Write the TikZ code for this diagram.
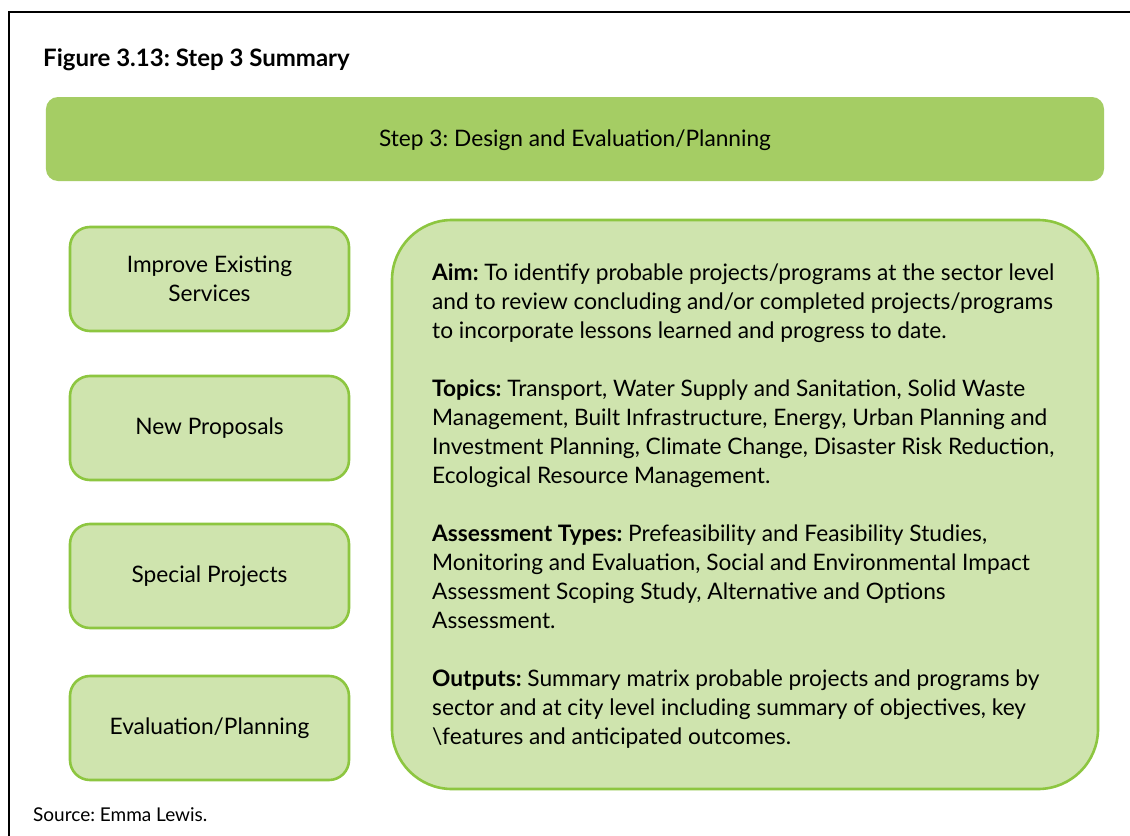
\documentclass[tikz,border=0pt]{standalone}
\usepackage{fontspec}
\setmainfont{Lato}
\frenchspacing
\definecolor{darkbar}{HTML}{A5CD64}
\definecolor{lightfill}{HTML}{CFE4AE}
\definecolor{greenline}{HTML}{8DC640}
\begin{document}
\begin{tikzpicture}[x=1bp,y=-1bp,
  sidebox/.style={draw=greenline, line width=2.6bp, fill=lightfill, rounded corners=20bp,
    minimum width=279bp, minimum height=104bp, align=center, inner sep=0pt,
    font=\fontsize{22.7bp}{29bp}\selectfont},
  bodytext/.style={align=left, inner sep=0pt, anchor=west,
    font=\fontsize{22.7bp}{29bp}\selectfont}]
\useasboundingbox (0,0) rectangle (1130,836);
\fill[white] (0,0) rectangle (1130,836);
\draw[line width=1.3bp] (1130,12) -- (9,12) -- (9,836);
\node[anchor=base west, inner sep=0pt, font=\fontsize{24bp}{28bp}\selectfont\bfseries] (title) at (43,66) {Figure 3.13: Step 3 Summary};
\node[fill=darkbar, rounded corners=12bp, minimum width=1058bp, minimum height=84bp, inner sep=0pt] (bar) at (575,139) {};
\node[inner sep=0pt, font=\fontsize{22.7bp}{29bp}\selectfont] (bartxt) at (575,140) {Step 3: Design and Evaluation/Planning};
\node[sidebox] (b1) at (209.5,279) {};
\node[sidebox] (b2) at (209.5,428) {};
\node[sidebox] (b3) at (209.5,576) {};
\node[sidebox] (b4) at (209.5,728) {};
\node[sidebox, draw=none, fill=none] (t1) at (209.5,279) {Improve Existing\\Services};
\node[sidebox, draw=none, fill=none] (t2) at (209.5,428) {New Proposals};
\node[sidebox, draw=none, fill=none] (t3) at (209.5,576) {Special Projects};
\node[sidebox, draw=none, fill=none] (t4) at (209.5,728) {Evaluation/Planning};
\node[draw=greenline, line width=2.6bp, fill=lightfill, rounded corners=60bp,
  minimum width=706bp, minimum height=569bp, inner sep=0pt] (big) at (745,504.5) {};
\node[bodytext] (txt) at (432,506) {%
\textbf{Aim:} To identify probable projects/programs at the sector level\\
and to review concluding and/or completed projects/programs\\
to incorporate lessons learned and progress to date.\\[29bp]
\textbf{Topics:} Transport, Water Supply and Sanitation, Solid Waste\\
Management, Built Infrastructure, Energy, Urban Planning and\\
Investment Planning, Climate Change, Disaster Risk Reduction,\\
Ecological Resource Management.\\[29bp]
\textbf{Assessment Types:} Prefeasibility and Feasibility Studies,\\
Monitoring and Evaluation, Social and Environmental Impact\\
Assessment Scoping Study, Alternative and Options\\
Assessment.\\[29bp]
\textbf{Outputs:} Summary matrix probable projects and programs by\\
sector and at city level including summary of objectives, key\\
\textbackslash features and anticipated outcomes.};
\node[anchor=base west, inner sep=0pt, font=\fontsize{19bp}{22bp}\selectfont] (src) at (33,821) {Source: Emma Lewis.};
\end{tikzpicture}
\end{document}
